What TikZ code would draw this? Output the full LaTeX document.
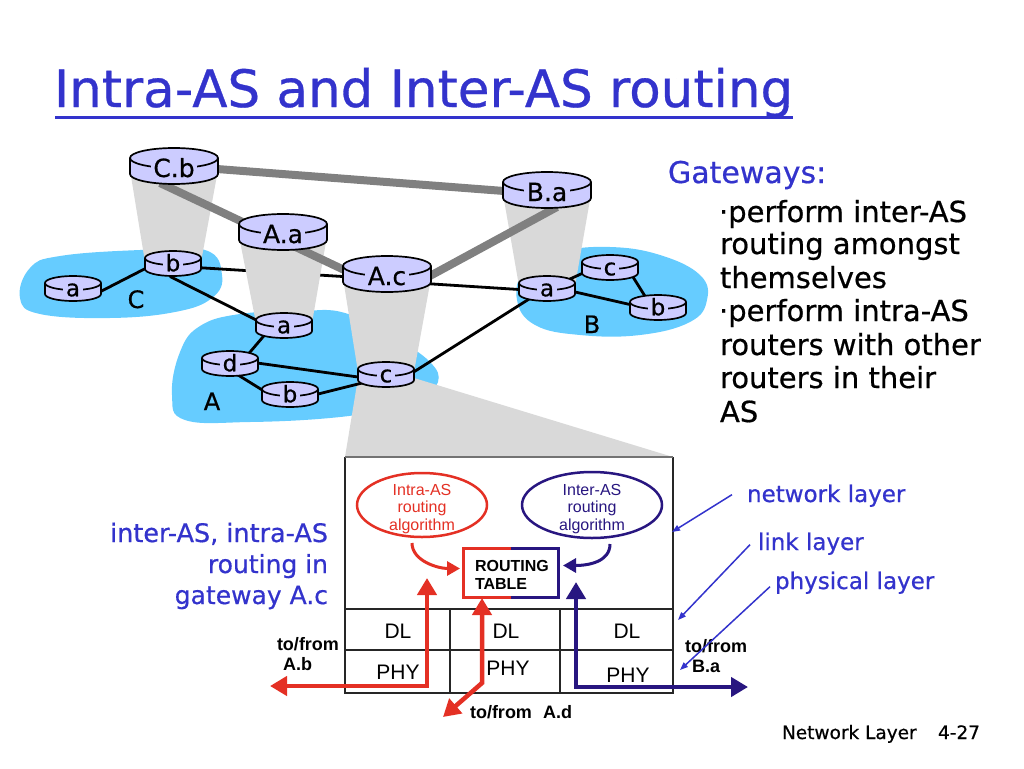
\documentclass[tikz,border=0pt]{standalone}
\usepackage{fontspec}
\setmainfont[FakeBold=0.6]{DejaVu Sans}
\newfontfamily\arialf{Liberation Sans}
\usetikzlibrary{arrows.meta,calc,shapes.geometric}
\definecolor{tblue}{RGB}{51,51,204}
\definecolor{blob}{RGB}{102,204,255}
\definecolor{rfill}{RGB}{204,204,255}
\definecolor{fun}{RGB}{217,217,217}
\definecolor{glink}{RGB}{128,128,128}
\definecolor{ired}{RGB}{228,48,36}
\definecolor{iblue}{RGB}{40,22,128}
\pgfdeclarelayer{blobs}
\pgfdeclarelayer{hidden}
\pgfdeclarelayer{funnels}
\pgfdeclarelayer{links}
\pgfsetlayers{blobs,hidden,funnels,links,main}
\newcommand{\fs}[1]{\fontsize{#1}{#1}\selectfont}
% router: name, x, yc, half width, ry, body, label offset, label
\newcommand{\rtr}[8]{%
 \fill[rfill] (#2-#4,#3) rectangle (#2+#4,#3+#6);
 \fill[rfill] (#2,#3+#6) ellipse[x radius=#4, y radius=#5];
 \begin{scope}\clip (#2-#4-3,#3+#6) rectangle (#2+#4+3,#3+#6+#5+3);
  \draw[rline] (#2,#3+#6) ellipse[x radius=#4, y radius=#5];\end{scope}
 \draw[rline] (#2-#4,#3) -- (#2-#4,#3+#6) (#2+#4,#3) -- (#2+#4,#3+#6);
 \draw[rline,fill=rfill] (#2,#3) ellipse[x radius=#4, y radius=#5];
 \coordinate (#1) at (#2,#3+#5);
 \node[rlabel] (#1-t) at (#2,#3+#5+#7) {#8};
}
\newcommand{\bigrtr}[4]{\rtr{#1}{#2}{#3}{44}{10}{16}{9}{\fs{25}#4}}
\newcommand{\smallrtr}[4]{\rtr{#1}{#2}{#3}{28}{7}{11}{6.3}{\fs{23}#4}}
\tikzset{
 bigtri/.tip={Triangle[length=17pt,width=19pt]},
 midtri/.tip={Triangle[length=13pt,width=14pt]},
 smtri/.tip={Triangle[length=8pt,width=6pt]},
}
\begin{document}
\begin{tikzpicture}[x=1pt,y=-1pt,
 every node/.style={inner sep=0pt, outer sep=0pt},
 rline/.style={draw=black, line width=1.7},
 rlabel/.style={fill=rfill, anchor=base, inner xsep=2.5pt, inner ysep=1.5pt, text height=12pt, text depth=0pt},
 glk/.style={draw=glink, line width=8},
 blk/.style={draw=black, line width=2.8},
 boxl/.style={draw=black!85, line width=2},
 btxt/.style={text=tblue},
 arl/.style={font=\arialf\fs{21}, anchor=base},
 ell/.style={font=\arialf\fs{16}, anchor=base},
 tofrom/.style={font=\arialf\bfseries\fs{18}, anchor=base west},
 gw/.style={font=\fs{29}, anchor=base west},
 thinarr/.style={draw=tblue, line width=1.5, -smtri},
 bigred/.style={draw=ired, line width=4.5, bigtri-bigtri},
 bigblue/.style={draw=iblue, line width=4.5, bigtri-bigtri}]
\useasboundingbox (0,0) rectangle (1024,768);

% title
\node[btxt, anchor=base west, font=\fs{51.5}] (title) at (54,107) {Intra-AS and Inter-AS routing};
\draw[tblue, line width=3] ($(title.base west)+(1,10)$) -- ($(title.base east)+(0,10)$);

% routers
\bigrtr{Cb}{174}{158}{C.b}
\bigrtr{Aa}{283}{224}{A.a}
\bigrtr{Ac}{387}{266}{A.c}
\bigrtr{Ba}{547}{182}{B.a}
\smallrtr{ca}{73}{283}{a}
\smallrtr{cb}{173}{258}{b}
\smallrtr{aa}{284}{320}{a}
\smallrtr{ad}{230}{358}{d}
\smallrtr{ab}{290}{389}{b}
\smallrtr{ac}{386}{369}{c}
\smallrtr{ba}{547}{283}{a}
\smallrtr{bc}{610}{262}{c}
\smallrtr{bb}{658}{302}{b}

% AS labels
\node[anchor=base, font=\fs{24}] (labC) at (136,308) {C};
\node[anchor=base, font=\fs{24}] (labA) at (212,410) {A};
\node[anchor=base, font=\fs{24}] (labB) at (592,333) {B};

\begin{pgfonlayer}{blobs}
 \fill[blob] plot[smooth cycle, tension=0.7] coordinates {(20,298) (30,268) (60,256) (140,250) (205,250) (222,275) (212,298) (175,312) (110,318) (40,314)};
 \fill[blob] plot[smooth cycle, tension=0.7] coordinates {(172,395) (180,352) (200,326) (240,314) (300,311) (345,313) (395,338) (430,362) (438,382) (420,397) (380,410) (330,418) (250,422) (185,420)};
 \fill[blob] plot[smooth cycle, tension=0.7] coordinates {(517,300) (525,270) (560,252) (610,247) (660,255) (700,275) (707,300) (690,322) (640,335) (580,335) (535,325)};
\end{pgfonlayer}
\begin{pgfonlayer}{hidden}
 \draw[blk] ($(cb)+(15,2)$) -- ($(Ac)+(-20,2)$);
\end{pgfonlayer}
\begin{pgfonlayer}{funnels}
 \fill[fun] (130,170) -- (218,170) -- (201,262) -- (145,262) -- cycle;
 \fill[fun] (239,236) -- (327,236) -- (312,323) -- (256,323) -- cycle;
 \fill[fun] (343,278) -- (431,278) -- (414,372) -- (358,372) -- cycle;
 \fill[fun] (503,194) -- (591,194) -- (575,286) -- (519,286) -- cycle;
 \fill[fun] (358,378) -- (414,378) -- (673,457) -- (345,457) -- cycle;
\end{pgfonlayer}
\begin{pgfonlayer}{links}
 \draw[glk] ($(Cb)+(30,0)$) -- ($(Ba)+(-30,0)$);
 \draw[glk] ($(Cb)+(-14,15)$) -- ($(Ac)+(-30,0)$);
 \draw[glk] ($(Ac)+(30,7)$) -- ($(Ba)+(10,15)$);
 \draw[blk] ($(ca)+(15,8)$) -- ($(cb)+(-13,-4)$);
 \draw[blk] ($(cb)+(-3,11.5)$) -- ($(aa)+(-10,2)$);
 \draw[blk] ($(aa)+(-16,4)$) -- ($(ad)+(15,-7)$);
 \draw[blk] ($(ad)+(20,-3)$) -- ($(ac)+(-10,3.5)$);
 \draw[blk] ($(ad)+(0,5)$) -- ($(ab)+(-10,5)$);
 \draw[blk] ($(ab)+(20,0)$) -- ($(ac)+(-20,6)$);
 \draw[blk] ($(Ac)+(30,7)$) -- ($(ba)+(-20,0)$);
 \draw[blk] ($(ac)+(15,4)$) -- ($(ba)+(-10,4)$);
 \draw[blk] ($(ba)+(10,-5)$) -- ($(bc)+(-15,-1.5)$);
 \draw[blk] ($(ba)+(15,-1)$) -- ($(bb)+(-15,-1.5)$);
 \draw[blk] ($(bc)+(18,0)$) -- ($(bb)+(-5,0)$);
\end{pgfonlayer}

% Gateways text
\node[btxt, anchor=base west, font=\fs{30}] (gwt) at (668,183) {Gateways:};
\node[gw] (g1) at (719,222) {·perform inter-AS};
\node[gw] (g2) at (720,254) {routing amongst};
\node[gw] (g3) at (720,288) {themselves};
\node[gw] (g4) at (719,321) {·perform intra-AS};
\node[gw] (g5) at (720,355) {routers with other};
\node[gw] (g6) at (720,388) {routers in their};
\node[gw] (g7) at (720,422) {AS};

% gateway box
\node[minimum width=328, minimum height=236, fill=white] (gw) at (509,575) {};
\draw[boxl] (gw.north west) -- (gw.south west) -- (gw.south east) -- (gw.north east);
\draw[draw=black!55, line width=1.5] (gw.north west) -- (gw.north east);
\draw[boxl] (345,609) -- (673,609) (345,650) -- (673,650) (450,609) -- (450,693) (560,609) -- (560,693);
\node[arl] (dl1) at (398,638) {DL};
\node[arl] (dl2) at (506,638) {DL};
\node[arl] (dl3) at (627,638) {DL};
\node[arl] (ph1) at (398,679) {PHY};
\node[arl] (ph2) at (508,675) {PHY};
\node[arl] (ph3) at (628,682) {PHY};

% algorithm ellipses
\node[ellipse, draw=ired, line width=2.5, minimum width=130, minimum height=64] (intra) at (422,505) {};
\node[ell, text=ired] (i1) at (422,495) {Intra-AS};
\node[ell, text=ired] (i2) at (422,512) {routing};
\node[ell, text=ired] (i3) at (422,530) {algorithm};
\node[ellipse, draw=iblue, line width=2.5, minimum width=140, minimum height=66] (inter) at (592,505) {};
\node[ell, text=iblue] (e1) at (592,495) {Inter-AS};
\node[ell, text=iblue] (e2) at (592,512) {routing};
\node[ell, text=iblue] (e3) at (592,530) {algorithm};

% routing table
\node[minimum width=95, minimum height=49] (rt) at (510.5,572.5) {};
\draw[ired, line width=3] (rt.north) -- (rt.north west) -- (rt.south west) -- (rt.south);
\draw[iblue, line width=3] (rt.north) -- (rt.north east) -- (rt.south east) -- (rt.south);
\node[anchor=base west, font=\arialf\bfseries\fs{16}] (rt1) at (475,571) {ROUTING};
\node[anchor=base west, font=\arialf\bfseries\fs{16}] (rt2) at (475,589) {TABLE};

\draw[ired, line width=3, -midtri] ($(intra.south)+(-10,6)$) .. controls +(0,18) and +(-22,0) .. ($(rt.west)+(-3,-4)$);
\draw[iblue, line width=3, -midtri] ($(inter.south)+(18,6)$) .. controls +(0,18) and +(25,0) .. ($(rt.east)+(5,-7)$);

% in/out arrows
\coordinate (pAb) at (270,686);
\coordinate (pAd) at (443,717);
\coordinate (pBa) at (748,687);
\coordinate (upR) at (427,578);
\coordinate (upB) at (576,582);
\coordinate (bendAd) at (482,683);
\draw[bigred] (pAb) -| (upR);
\draw[bigred] (pAd) -- (bendAd) -- ($(rt.south west)+(19,1)$);
\draw[bigblue] (upB) |- (pBa);

\node[tofrom] (tf1) at (277,650) {to/from};
\node[tofrom] (tf1b) at (283,670) {A.b};
\node[tofrom] (tf2) at (470,718) {to/from};
\node[tofrom] (tf2b) at (543,718) {A.d};
\node[tofrom] (tf3) at (685,652) {to/from};
\node[tofrom] (tf3b) at (692,672) {B.a};

% layer labels
\node[btxt, anchor=base west, font=\fs{23}] (nl) at (747,502) {network layer};
\node[btxt, anchor=base west, font=\fs{23}] (ll) at (758,550) {link layer};
\node[btxt, anchor=base west, font=\fs{23}] (pl) at (775,589) {physical layer};
\draw[thinarr] ($(nl.west)+(-15,-1)$) -- ($(gw.east)+(-1,-43)$);
\draw[thinarr] ($(ll.west)+(-8,1)$) -- ($(gw.east)+(5,45)$);
\draw[thinarr] ($(pl.west)+(-5,4)$) -- ($(gw.east)+(7,95)$);

% left caption
\node[btxt, anchor=base east, font=\fs{25.5}] (c1) at (328,542) {inter-AS, intra-AS};
\node[btxt, anchor=base east, font=\fs{25}] (c2) at (328,573) {routing in};
\node[btxt, anchor=base east, font=\fs{25}] (c3) at (328,604) {gateway A.c};

% footer
\node[anchor=base west, font=\fs{18.5}] (ft1) at (782,739) {Network Layer};
\node[anchor=base east, font=\fs{18.5}] (ft2) at (980,739) {4-27};
\end{tikzpicture}
\end{document}
